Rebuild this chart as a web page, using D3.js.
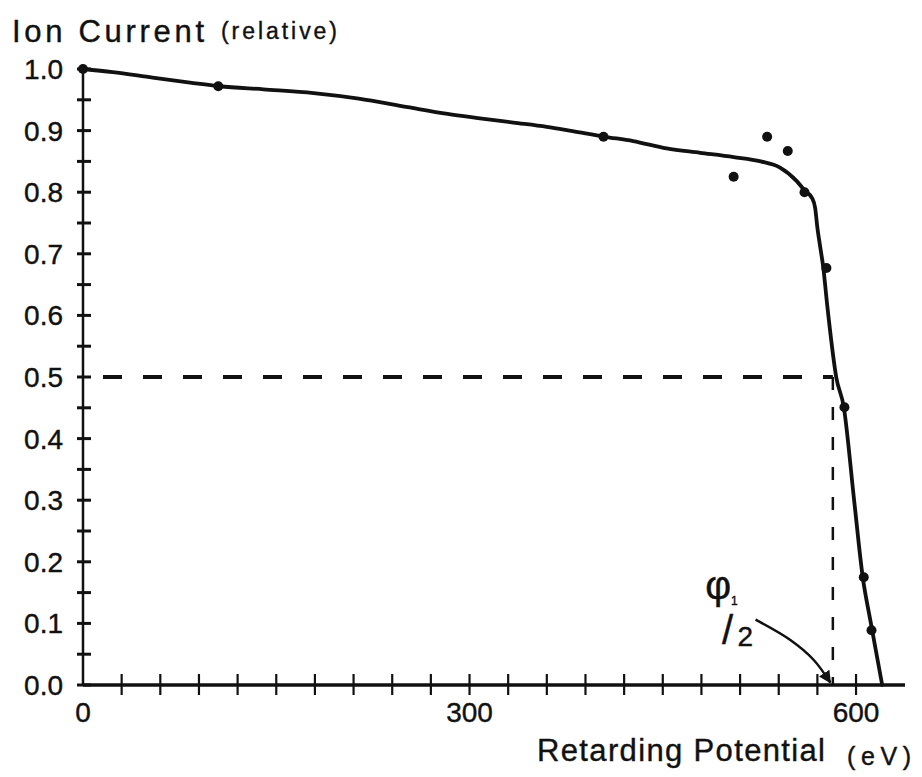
<!DOCTYPE html>
<html>
<head>
<meta charset="utf-8">
<script src="https://cdn.jsdelivr.net/npm/d3@7"></script>
<style>
  html, body { margin: 0; padding: 0; background: #fff; }
  svg { display: block; }
  text { font-family: "Liberation Sans", "DejaVu Sans", sans-serif; fill: #111; stroke: #111; stroke-width: 0.4; }
</style>
</head>
<body>
<svg id="chart" width="922" height="777"></svg>
<script>
// ---- data ----
const curveX = [0, 23, 54, 83, 106, 140, 179, 214, 252, 283, 308, 334, 360, 380, 405, 427, 453, 479, 505, 526, 541, 554, 560, 566, 568.3, 569.9, 572.2, 574.5, 577.6, 584.6, 590.5, 598.5, 605.2, 611, 620.3];
const curveY = [1.0, 0.995, 0.986, 0.978, 0.972, 0.967, 0.961, 0.952, 0.938, 0.927, 0.920, 0.913, 0.906, 0.899, 0.890, 0.883, 0.871, 0.864, 0.857, 0.850, 0.840, 0.818, 0.803, 0.790, 0.774, 0.744, 0.711, 0.679, 0.617, 0.500, 0.451, 0.300, 0.175, 0.106, 0.0];
const pointX = [0, 105, 404, 505, 531, 547, 560, 577, 591, 606, 612];
const pointY = [1.0, 0.972, 0.890, 0.825, 0.890, 0.867, 0.800, 0.677, 0.451, 0.175, 0.089];
const yMajorTicks = [0.0, 0.1, 0.2, 0.3, 0.4, 0.5, 0.6, 0.7, 0.8, 0.9, 1.0];
const yTickLabels = ["0.0", "0.1", "0.2", "0.3", "0.4", "0.5", "0.6", "0.7", "0.8", "0.9", "1.0"];
const yMinorTicks = [0.05, 0.15, 0.25, 0.35, 0.45, 0.55, 0.65, 0.75, 0.85, 0.95];
const xTicks = [30, 60, 90, 120, 150, 180, 210, 240, 270, 300, 330, 360, 390, 420, 450, 480, 510, 540, 570, 600];
const xLabelValues = [0, 300, 600];
const xTickLabels = ["0", "300", "600"];
const halfLevel = 0.5;
const halfPotential = 582;
const arrowX = [522, 549, 567, 580];
const arrowY = [0.106, 0.073, 0.041, 0.004];

// ---- scales ----
const svg = d3.select("#chart");
const x = d3.scaleLinear().domain([0, 638]).range([83, 905]);
const y = d3.scaleLinear().domain([0, 1]).range([685, 69]);
const ink = "#111";

// ---- axes ----
svg.append("line").attr("x1", x(0)).attr("x2", x(0)).attr("y1", y(0)).attr("y2", y(1) - 2)
  .attr("stroke", ink).attr("stroke-width", 2.5);
svg.append("line").attr("x1", x(0)).attr("x2", x(638)).attr("y1", y(0)).attr("y2", y(0))
  .attr("stroke", ink).attr("stroke-width", 3.5);

svg.selectAll(".ytick").data(yMajorTicks.concat(yMinorTicks)).enter().append("line")
  .attr("x1", x(0) - 6).attr("x2", x(0) + 8)
  .attr("y1", d => y(d)).attr("y2", d => y(d))
  .attr("stroke", ink).attr("stroke-width", 3);

svg.selectAll(".xtick").data(xTicks).enter().append("line")
  .attr("x1", d => x(d)).attr("x2", d => x(d))
  .attr("y1", y(0) - 11).attr("y2", y(0) + 10)
  .attr("stroke", ink).attr("stroke-width", 2.2);

svg.selectAll(".ylab").data(yMajorTicks).enter().append("text")
  .attr("x", x(0) - 20).attr("y", d => y(d))
  .attr("dy", "0.36em").attr("text-anchor", "end")
  .attr("font-size", 28)
  .text((d, i) => yTickLabels[i]);

svg.selectAll(".xlab").data(xLabelValues).enter().append("text")
  .attr("x", d => x(d)).attr("y", y(0) + 37)
  .attr("text-anchor", "middle").attr("font-size", 28)
  .text((d, i) => xTickLabels[i]);

// ---- titles ----
svg.append("text").attr("x", 12).attr("y", 42).attr("font-size", 31)
  .attr("textLength", 192).attr("lengthAdjust", "spacing").text("Ion Current");
svg.append("text").attr("x", 221).attr("y", 39).attr("font-size", 23)
  .attr("textLength", 116).attr("lengthAdjust", "spacing").text("(relative)");
svg.append("text").attr("x", 537).attr("y", 761).attr("font-size", 31)
  .attr("textLength", 288).attr("lengthAdjust", "spacing").text("Retarding Potential");
svg.append("text").attr("x", 847).attr("y", 765).attr("font-size", 25)
  .attr("textLength", 64).attr("lengthAdjust", "spacing").text("(eV)");

// ---- dashed guides ----
svg.append("line").attr("x1", x(15.5)).attr("x2", x(halfPotential)).attr("y1", y(halfLevel)).attr("y2", y(halfLevel))
  .attr("stroke", ink).attr("stroke-width", 4).attr("stroke-dasharray", "19 21");
svg.append("line").attr("x1", x(halfPotential)).attr("x2", x(halfPotential)).attr("y1", y(halfLevel)).attr("y2", y(0))
  .attr("stroke", ink).attr("stroke-width", 2.5).attr("stroke-dasharray", "13 17");

// ---- curve ----
const curveData = curveX.map((d, i) => [d, curveY[i]]);
const line = d3.line().x(d => x(d[0])).y(d => y(d[1])).curve(d3.curveMonotoneX);
svg.append("path").datum(curveData).attr("d", line)
  .attr("fill", "none").attr("stroke", ink).attr("stroke-width", 3.8)
  .attr("stroke-linejoin", "round").attr("stroke-linecap", "round");

// ---- points ----
svg.selectAll(".pt").data(pointX.map((d, i) => [d, pointY[i]])).enter().append("circle")
  .attr("cx", d => x(d[0])).attr("cy", d => y(d[1])).attr("r", 5)
  .attr("fill", ink);

// ---- phi 1/2 annotation ----
const defs = svg.append("defs");
defs.append("marker").attr("id", "arr").attr("viewBox", "0 0 10 10")
  .attr("refX", 9).attr("refY", 5).attr("markerWidth", 5).attr("markerHeight", 5)
  .attr("orient", "auto").attr("markerUnits", "strokeWidth")
  .append("path").attr("d", "M0,0 L10,5 L0,10 z").attr("fill", ink);
const arrowData = arrowX.map((d, i) => [d, arrowY[i]]);
svg.append("path").datum(arrowData)
  .attr("d", d3.line().x(d => x(d[0])).y(d => y(d[1])).curve(d3.curveCatmullRom.alpha(0.5)))
  .attr("fill", "none").attr("stroke", ink).attr("stroke-width", 2.5)
  .attr("marker-end", "url(#arr)");

svg.append("text").attr("x", x(483)).attr("y", y(0.14)).attr("font-size", 40).text("φ");
svg.append("text").attr("x", x(503)).attr("y", y(0.13)).attr("font-size", 12).text("1");
svg.append("text").attr("x", x(496)).attr("y", y(0.066)).attr("font-size", 40).text("/");
svg.append("text").attr("x", x(508)).attr("y", y(0.064)).attr("font-size", 28).text("2");
</script>
</body>
</html>
